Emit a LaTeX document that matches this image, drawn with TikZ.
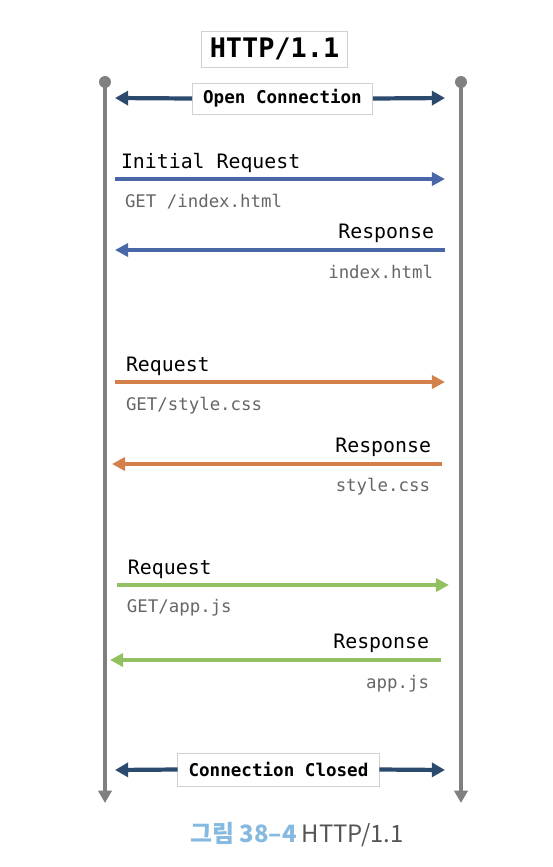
\documentclass[tikz,border=0pt]{standalone}
\usepackage{fontspec}
\setmonofont{DejaVu Sans Mono}
\newfontfamily\krfont{Noto Sans CJK KR}
\usetikzlibrary{arrows.meta}

\definecolor{lifegray}{HTML}{808080}
\definecolor{navy}{HTML}{2C4A6E}
\definecolor{blueline}{HTML}{4A68A8}
\definecolor{orangeline}{HTML}{D3804A}
\definecolor{greenline}{HTML}{93C062}
\definecolor{filegray}{HTML}{666666}
\definecolor{capblue}{HTML}{86B9E0}
\definecolor{capgray}{HTML}{555555}

\tikzset{
  life/.style={draw=lifegray, line width=2.2pt, -{Triangle[length=7pt,width=7.5pt]}},
  conn/.style={draw=navy, line width=2.4pt, -{Triangle[length=7.5pt,width=8pt]}},
  msgarrow/.style={line width=2pt, -{Triangle[length=7.5pt,width=7.5pt]}},
  box/.style={draw=black!18, fill=white, inner xsep=0.22cm, font=\ttfamily\bfseries\fontsize{10}{12}\selectfont},
  msg/.style={font=\ttfamily\fontsize{11.3}{13}\selectfont},
  file/.style={font=\ttfamily\fontsize{9.9}{12}\selectfont, text=filegray}
}

\begin{document}
\begin{tikzpicture}[x=0.02cm, y=-0.02cm, every node/.style={inner sep=0pt, outer sep=0pt}]
\useasboundingbox (0,0) rectangle (553,867);

% lifelines
\coordinate (ltop) at (105,82);
\coordinate (lbot) at (105,803);
\coordinate (rtop) at (461,82);
\coordinate (rbot) at (461,803);
\draw[life] (ltop) -- (lbot);
\draw[life] (rtop) -- (rbot);
\fill[lifegray] (ltop) circle (3.4pt);
\fill[lifegray] (rtop) circle (3.4pt);

\node[box, font=\ttfamily\bfseries\fontsize{15.3}{18}\selectfont, inner xsep=0.17cm, minimum height=0.72cm] (title) at (274.5,49) {HTTP/1.1};

% open connection
\coordinate (openl) at (115,98);
\coordinate (openr) at (445,98);
\node[box, minimum height=0.62cm] (open) at (282.5,98.5) {Open Connection};
\draw[conn] (open.west) -- (openl);
\draw[conn] (open.east) -- (openr);

% index.html
\coordinate (q1a) at (115,179);
\coordinate (q1b) at (445,179);
\coordinate (s1a) at (445,250);
\coordinate (s1b) at (115,250);
\node[msg, anchor=west] (req1) at (121,163) {Initial Request};
\node[file, anchor=west] (get1) at (125,202) {GET /index.html};
\node[msg, anchor=east] (res1) at (434,233) {Response};
\node[file, anchor=east] (body1) at (433,272) {index.html};
\draw[msgarrow, blueline] (q1a) -- (q1b);
\draw[msgarrow, blueline] (s1a) -- (s1b);

% style.css
\coordinate (q2a) at (115,382);
\coordinate (q2b) at (445,382);
\coordinate (s2a) at (442,464);
\coordinate (s2b) at (112,464);
\node[msg, anchor=west] (req2) at (126,366) {Request};
\node[file, anchor=west] (get2) at (126,406) {GET/style.css};
\node[msg, anchor=east] (res2) at (431,447) {Response};
\node[file, anchor=east] (body2) at (430,487) {style.css};
\draw[msgarrow, orangeline] (q2a) -- (q2b);
\draw[msgarrow, orangeline] (s2a) -- (s2b);

% app.js
\coordinate (q3a) at (117,585);
\coordinate (q3b) at (449,585);
\coordinate (s3a) at (441,660);
\coordinate (s3b) at (110,660);
\node[msg, anchor=west] (req3) at (128,569) {Request};
\node[file, anchor=west] (get3) at (127,608) {GET/app.js};
\node[msg, anchor=east] (res3) at (429,643) {Response};
\node[file, anchor=east] (body3) at (429,684) {app.js};
\draw[msgarrow, greenline] (q3a) -- (q3b);
\draw[msgarrow, greenline] (s3a) -- (s3b);

% connection closed
\coordinate (closel) at (115,770);
\coordinate (closer) at (445,770);
\node[box, minimum height=0.66cm] (close) at (278.5,769.5) {Connection Closed};
\draw[conn] (close.west) -- (closel);
\draw[conn] (close.east) -- (closer);

\node[font=\krfont\fontsize{13.6}{16}\selectfont] (caption) at (297,835) {\textcolor{capblue}{\bfseries 그림 38–4} \textcolor{capgray}{HTTP/1.1}};
\end{tikzpicture}
\end{document}
